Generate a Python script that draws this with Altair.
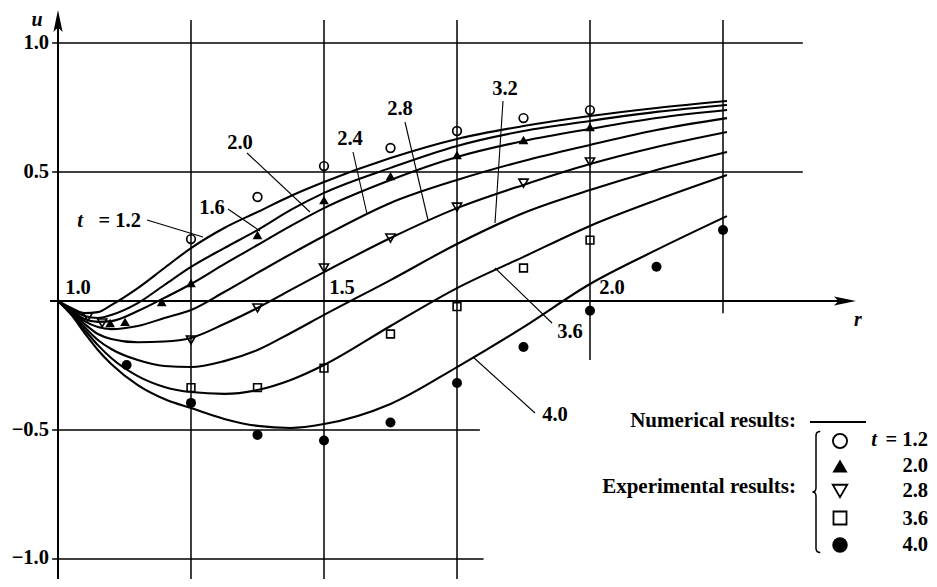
import altair as alt
import pandas as pd

# ---------------- data ----------------
r_grid = [1.0, 1.025, 1.05, 1.075, 1.1, 1.15, 1.2, 1.25, 1.3125, 1.375, 1.4375,
          1.5, 1.625, 1.75, 1.875, 2.0, 2.125, 2.2575]
t_labels = ["1.2", "1.6", "2.0", "2.4", "2.8", "3.2", "3.6", "4.0"]
u_t12 = [0.0, -0.027, -0.047, -0.043, -0.016, 0.050, 0.128, 0.205, 0.283, 0.345, 0.407,
         0.461, 0.554, 0.628, 0.678, 0.717, 0.748, 0.775]
u_t16 = [0.0, -0.031, -0.058, -0.066, -0.054, -0.008, 0.062, 0.132, 0.205, 0.275, 0.353,
         0.419, 0.516, 0.601, 0.659, 0.698, 0.733, 0.760]
u_t20 = [0.0, -0.035, -0.070, -0.081, -0.078, -0.039, 0.012, 0.066, 0.143, 0.217, 0.291,
         0.360, 0.469, 0.558, 0.620, 0.667, 0.709, 0.740]
u_t24 = [0.0, -0.039, -0.078, -0.101, -0.109, -0.097, -0.066, -0.035, 0.035, 0.109, 0.182,
         0.252, 0.380, 0.469, 0.543, 0.605, 0.663, 0.709]
u_t28 = [0.0, -0.043, -0.089, -0.128, -0.147, -0.160, -0.157, -0.143, -0.089, -0.027, 0.043,
         0.112, 0.244, 0.360, 0.450, 0.531, 0.597, 0.655]
u_t32 = [0.0, -0.047, -0.101, -0.151, -0.186, -0.229, -0.252, -0.256, -0.233, -0.190, -0.124,
         -0.054, 0.081, 0.221, 0.341, 0.430, 0.508, 0.578]
u_t36 = [0.0, -0.050, -0.112, -0.171, -0.221, -0.291, -0.333, -0.353, -0.360, -0.345, -0.306,
         -0.248, -0.097, 0.050, 0.171, 0.291, 0.391, 0.488]
u_t40 = [0.0, -0.054, -0.124, -0.190, -0.244, -0.326, -0.380, -0.415, -0.457, -0.484, -0.492,
         -0.477, -0.399, -0.256, -0.101, 0.066, 0.198, 0.329]
numerical = [u_t12, u_t16, u_t20, u_t24, u_t28, u_t32, u_t36, u_t40]

exp12_r = [1.25, 1.375, 1.5, 1.625, 1.75, 1.875, 2.0]
exp12_u = [0.240, 0.403, 0.523, 0.593, 0.659, 0.709, 0.740]
exp20_r = [1.098, 1.126, 1.195, 1.25, 1.375, 1.5, 1.625, 1.75, 1.875, 2.0]
exp20_u = [-0.085, -0.081, -0.004, 0.070, 0.256, 0.391, 0.484, 0.566, 0.624, 0.674]
exp28_r = [1.056, 1.083, 1.25, 1.375, 1.5, 1.625, 1.75, 1.875, 2.0]
exp28_u = [-0.062, -0.085, -0.151, -0.027, 0.128, 0.244, 0.364, 0.457, 0.539]
exp36_r = [1.25, 1.375, 1.5, 1.625, 1.75, 1.875, 2.0]
exp36_u = [-0.336, -0.336, -0.260, -0.128, -0.022, 0.128, 0.236]
exp40_r = [1.129, 1.25, 1.375, 1.5, 1.625, 1.75, 1.875, 2.0, 2.125, 2.25]
exp40_u = [-0.248, -0.395, -0.519, -0.541, -0.471, -0.318, -0.178, -0.038, 0.133, 0.275]

# gridlines / axes (data units)
hgrid_u = [1.0, 0.5, -0.5, -1.0]
hgrid_r0 = [0.989, 0.989, 0.989, 0.989]
hgrid_r1 = [2.400, 2.400, 1.793, 1.800]
vgrid_r = [1.25, 1.5, 1.75, 2.0, 2.25]
vgrid_u0 = [-1.08, -1.08, -1.08, -0.229, -0.047]
vgrid_u1 = [1.089, 1.089, 1.089, 1.089, 1.089]

# ---------------- layout ----------------
W, H = 921, 571
OFF = 8
FONT = "Liberation Serif"
NUM = 20.5
xs = alt.Scale(domain=[0.90602, 2.63722], nice=False, zero=False)
ys = alt.Scale(domain=[-1.07752, 1.13566], nice=False, zero=False)
one = pd.DataFrame({"a": [0]})

curves = pd.DataFrame(
    [{"r": r, "u": u, "t": t} for t, us in zip(t_labels, numerical) for r, u in zip(r_grid, us)]
)
hg = pd.DataFrame({"u": hgrid_u, "r0": hgrid_r0, "r1": hgrid_r1})
vg = pd.DataFrame({"r": vgrid_r, "u0": vgrid_u0, "u1": vgrid_u1})

X = lambda f: alt.X(f, scale=xs, axis=None)
Y = lambda f: alt.Y(f, scale=ys, axis=None)

layers = []
layers.append(alt.Chart(hg).mark_rule(color="black", strokeWidth=1.5).encode(
    x=X("r0:Q"), x2="r1:Q", y=Y("u:Q")))
layers.append(alt.Chart(vg).mark_rule(color="black", strokeWidth=1.5).encode(
    x=X("r:Q"), y=Y("u0:Q"), y2="u1:Q"))
# axes
ax = pd.DataFrame({"r0": [0.985], "r1": [2.48], "u": [0.0]})
layers.append(alt.Chart(ax).mark_rule(color="black", strokeWidth=2).encode(
    x=X("r0:Q"), x2="r1:Q", y=Y("u:Q")))
ay = pd.DataFrame({"r": [1.0], "u0": [-1.08], "u1": [1.10]})
layers.append(alt.Chart(ay).mark_rule(color="black", strokeWidth=2).encode(
    x=X("r:Q"), y=Y("u0:Q"), y2="u1:Q"))

# numerical curves
layers.append(alt.Chart(curves).mark_line(color="black", strokeWidth=2.1, interpolate="monotone").encode(
    x=X("r:Q"), y=Y("u:Q"), detail="t:N"))

def pts(rr, uu, **kw):
    return alt.Chart(pd.DataFrame({"r": rr, "u": uu})).mark_point(color="black", opacity=1, **kw).encode(
        x=X("r:Q"), y=Y("u:Q"))

layers.append(pts(exp12_r, exp12_u, shape="circle", filled=False, size=75, strokeWidth=1.7))
layers.append(pts(exp20_r, exp20_u, shape="triangle-up", filled=True, size=95))
layers.append(pts(exp28_r, exp28_u, shape="triangle-down", filled=False, size=85, strokeWidth=1.6))
layers.append(pts(exp36_r, exp36_u, shape="square", filled=False, size=60, strokeWidth=1.6))
layers.append(pts(exp40_r, exp40_u, shape="circle", filled=True, size=100))

# ---------------- annotations (page pixels) ----------------
def T(text, x, y, size=NUM, italic=False, align="center", bold=True):
    return alt.Chart(one).mark_text(
        text=text, font=FONT, fontSize=size, fontStyle="italic" if italic else "normal",
        fontWeight="bold" if bold else "normal", align=align, baseline="middle", color="black"
    ).encode(x=alt.value(x - OFF), y=alt.value(y - OFF))

def L(x1, y1, x2, y2, w=1.1):
    return alt.Chart(one).mark_rule(color="black", strokeWidth=w).encode(
        x=alt.value(x1 - OFF), x2=alt.value(x2 - OFF), y=alt.value(y1 - OFF), y2=alt.value(y2 - OFF))

def S(shape, x, y, size, filled=True, sw=1.5):
    return alt.Chart(one).mark_point(shape=shape, size=size, filled=filled, color="black",
                                     opacity=1, strokeWidth=sw).encode(
        x=alt.value(x - OFF), y=alt.value(y - OFF))

# y tick labels
for lab, yy in [("1.0", 43), ("0.5", 172), ("\u22120.5", 430), ("\u22121.0", 558)]:
    layers.append(T(lab, 49, yy, align="right"))
# axis titles
layers.append(T("u", 37, 20, size=20, italic=True))
layers.append(T("r", 858, 320, size=20, italic=True))
# arrows
layers.append(S("M-0.42,1 L0,-1 L0.42,1 L0,0.6 Z", 58, 21, 484))
layers.append(S("M-1,-0.42 L1,0 L-1,0.42 L-0.6,0 Z", 845, 301, 484))

# curve labels and leaders
layers.append(T("t", 80, 221, italic=True))
layers.append(T("= 1.2", 141, 221, align="right"))
layers.append(L(147, 220, 203, 237))
layers.append(T("1.6", 212, 208))
layers.append(L(228, 209, 260, 231))
layers.append(T("2.0", 240, 143))
layers.append(L(247, 153, 310, 212))
layers.append(T("2.4", 350, 139))
layers.append(L(353, 152, 367, 214))
layers.append(T("2.8", 400, 109))
layers.append(L(405, 122, 428, 220))
layers.append(T("3.2", 505, 89))
layers.append(L(503, 101, 495, 223))
layers.append(T("3.6", 570, 332))
layers.append(L(495, 268, 552, 323))
layers.append(T("4.0", 555, 415))
layers.append(L(473, 357, 535, 413))
# r labels on the axis
layers.append(T("1.0", 78, 288))
layers.append(T("1.5", 342, 288))
layers.append(T("2.0", 612, 288))

# legend
layers.append(T("Numerical results:", 796, 421, size=21, align="right"))
layers.append(L(810, 422, 866, 422, w=2))
layers.append(T("Experimental results:", 796, 487, size=21, align="right"))
layers.append(S("M0.07,-1 Q0,-1 0,-0.93 L0,-0.07 Q0,0 -0.06,0 Q0,0 0,0.07 L0,0.93 Q0,1 0.07,1",
                816, 492, 121 * 121, filled=False, sw=1.5))
layers.append(S("circle", 840, 441, 200, filled=False, sw=1.8))
layers.append(S("triangle-up", 840, 466, 230))
layers.append(S("triangle-down", 840, 491, 210, filled=False, sw=1.8))
layers.append(S("square", 840, 518, 170, filled=False, sw=1.8))
layers.append(S("circle", 840, 545, 240))
layers.append(T("t", 874, 440, italic=True))
layers.append(T("= 1.2", 928, 440, align="right"))
for lab, yy in [("2.0", 466), ("2.8", 491), ("3.6", 519), ("4.0", 545)]:
    layers.append(T(lab, 928, yy, align="right"))

chart = alt.layer(*layers).properties(
    width=W, height=H, padding=0, autosize=alt.AutoSizeParams(type="none")
).configure_view(stroke=None)

chart.save("out.html", embed_options={"renderer": "svg", "actions": False})
